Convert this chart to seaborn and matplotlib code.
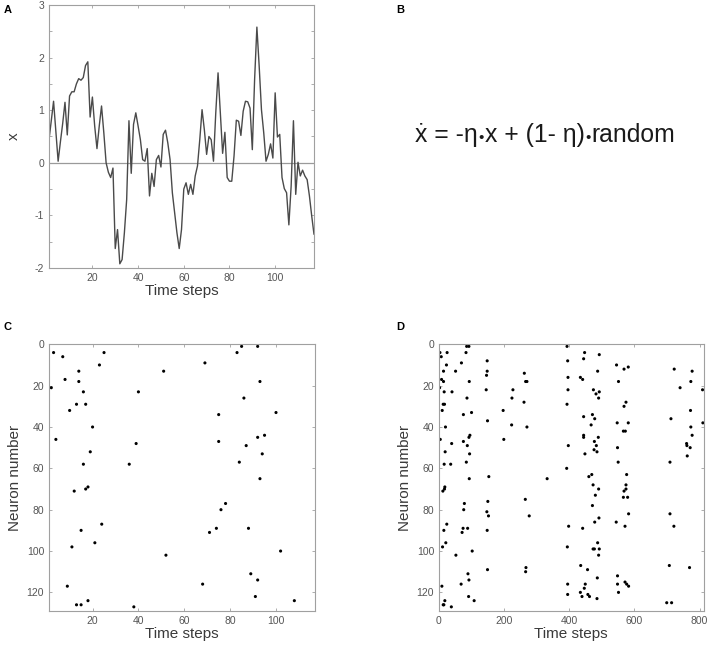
import matplotlib
matplotlib.use("Agg")
import numpy as np
import pandas as pd
import matplotlib.pyplot as plt
import seaborn as sns
from matplotlib.ticker import MultipleLocator

# =========================================================
# DATA
# =========================================================
# Panel A: state x over time
time_steps = list(range(1, 118))
x_values = [
    0.44, 0.80, 1.17, 0.60, 0.03, 0.40, 0.75, 1.15, 0.53, 1.27,
    1.35, 1.35, 1.50, 1.60, 1.57, 1.62, 1.85, 1.92, 0.87, 1.25,
    0.70, 0.27, 0.70, 1.08, 0.57, 0.00, -0.18, -0.28, -0.10, -1.63,
    -1.27, -1.92, -1.84, -1.33, -0.70, 0.80, -0.20, 0.73, 0.95, 0.70,
    0.44, 0.06, 0.03, 0.27, -0.63, -0.20, -0.45, 0.06, 0.14, -0.08,
    0.54, 0.62, 0.38, 0.06, -0.57, -0.95, -1.33, -1.63, -1.27, -0.50,
    -0.38, -0.60, -0.41, -0.60, -0.25, -0.06, 0.44, 1.01, 0.63, 0.16,
    0.50, 0.44, 0.03, 0.95, 1.71, 0.95, 0.18, 0.58, -0.28, -0.35,
    -0.35, 0.13, 0.81, 0.79, 0.52, 0.98, 1.17, 1.16, 1.04, 0.25,
    1.58, 2.58, 1.84, 1.01, 0.57, 0.03, 0.16, 0.36, 0.09, 1.33,
    0.49, 0.54, -0.28, -0.49, -0.57, -1.18, -0.44, 0.80, -0.60, 0.01,
    -0.25, -0.14, -0.25, -0.32, -0.63, -1.01, -1.36,
]

# Panel B: equation pieces (bullets drawn smaller between them)
eq_parts = ["ẋ = -η", "x + (1- η)", "random"]

# Panel C: spikes during the first 117 steps
c_time = [3, 7, 25, 23, 14, 8, 14, 2, 16, 13, 17, 10, 20, 4, 19, 16, 18, 17,
          12, 24, 15, 21, 11, 9, 13, 15, 18, 38, 40, 39, 36, 51, 52,
          85, 92, 83, 69, 93, 86, 100, 75, 95, 92, 75, 87, 94, 84, 93, 78,
          76, 74, 71, 88, 102, 89, 92, 68, 91, 108]
c_neuron = [4, 6, 4, 10, 13, 17, 18, 21, 23, 29, 29, 32, 40, 46, 52, 58, 69, 70,
            71, 87, 90, 96, 98, 117, 126, 126, 124, 127, 23, 48, 58, 13, 102,
            1, 1, 4, 9, 18, 26, 33, 34, 44, 45, 47, 49, 53, 57, 65, 77,
            80, 89, 91, 89, 100, 111, 114, 116, 122, 124]

# Panel D: further spikes after step 117 (first 117 steps are those of panel C)
d_time_extra = [148, 148, 146, 145, 149, 153, 150, 147, 152, 148, 149,
                262, 266, 270, 227, 224, 261, 197, 223, 270, 199, 332, 265, 277, 267, 266,
                393, 447, 492, 395, 444, 545, 568, 581, 487, 722, 777, 396, 434, 441,
                551, 773, 396, 474, 482, 492, 490, 740, 809, 393, 574, 568, 772, 444,
                471, 478, 467, 547, 581, 712, 810, 444, 444, 489, 477, 483, 476, 485,
                448, 397, 548, 566, 572, 773, 777, 760, 761, 771, 762, 709, 550, 392,
                469, 460, 576, 574, 574, 473, 490, 568, 566, 579, 480, 471, 582, 709,
                491, 478, 544, 398, 441, 571, 721, 487, 394, 473, 477, 492, 490, 435,
                456, 707, 769, 486, 548, 395, 449, 548, 571, 576, 582, 446, 434, 395,
                439, 457, 462, 551, 485, 699, 714]
d_neuron_extra = [8, 13, 15, 22, 37, 64, 76, 81, 83, 90, 109,
                  14, 18, 18, 22, 26, 28, 32, 39, 40, 46, 65, 75, 83, 108, 110,
                  1, 4, 5, 8, 7, 10, 12, 11, 13, 12, 13, 16, 16, 17,
                  18, 18, 22, 22, 24, 23, 26, 21, 22, 29, 28, 30, 32, 35,
                  34, 36, 39, 38, 38, 36, 38, 44, 45, 45, 47, 49, 51, 52,
                  53, 49, 50, 42, 42, 40, 44, 48, 49, 50, 54, 57, 57, 60,
                  63, 64, 63, 68, 70, 68, 70, 71, 74, 74, 73, 78, 82, 82,
                  84, 86, 86, 88, 89, 88, 88, 96, 98, 99, 99, 99, 102, 107,
                  109, 107, 108, 113, 112, 116, 116, 116, 115, 116, 117, 118, 120, 121,
                  122, 121, 122, 120, 123, 125, 125]

# =========================================================
# STYLE
# =========================================================
sns.set_style("white")
plt.rcParams["font.family"] = ["Liberation Sans", "DejaVu Sans"]
plt.rcParams["axes.unicode_minus"] = False

TICK_COL = "#555555"
LABEL_COL = "#3a3a3a"
SPINE_COL = "#a0a0a0"


def matlab_axes(ax):
    for s in ax.spines.values():
        s.set_color(SPINE_COL)
        s.set_linewidth(0.8)
    ax.tick_params(which="both", direction="in", top=True, right=True,
                   bottom=True, left=True,
                   length=2.5, width=0.6, color=SPINE_COL,
                   labelcolor=TICK_COL, labelsize=7.5, pad=3.5)
    ax.xaxis.label.set_color(LABEL_COL)
    ax.yaxis.label.set_color(LABEL_COL)


fig = plt.figure(figsize=(7.08, 6.5), dpi=100)

# --- Panel A ---
ax_a = fig.add_axes([0.0692, 0.5877, 0.3743, 0.4046])
df_a = pd.DataFrame({"t": time_steps, "x": x_values})
ax_a.axhline(0, color="#9a9a9a", linewidth=0.9, zorder=1)
sns.lineplot(data=df_a, x="t", y="x", ax=ax_a, color="#4a4a4a", linewidth=1.0, zorder=2)
ax_a.set_xlim(1, 117)
ax_a.set_ylim(-2, 3)
ax_a.set_xticks([20, 40, 60, 80, 100])
ax_a.yaxis.set_major_locator(MultipleLocator(1))
ax_a.yaxis.set_minor_locator(MultipleLocator(0.5))
ax_a.set_xlabel("Time steps", fontsize=11, labelpad=1)
ax_a.set_ylabel("x", fontsize=11, labelpad=10)
matlab_axes(ax_a)

# --- Panel B: equation, chained text pieces with small bullets ---
EQ_COL = "#1a1a1a"
prev = fig.text(415 / 708, 0.792, eq_parts[0], fontsize=17.8,
                ha="left", va="center", color=EQ_COL)
for part in eq_parts[1:]:
    dot = ax_a.annotate("•", xy=(1, 0), xycoords=prev, xytext=(0.5, 1.5),
                        textcoords="offset points", fontsize=11,
                        ha="left", va="bottom", color=EQ_COL, annotation_clip=False)
    prev = ax_a.annotate(part, xy=(1, 0), xycoords=dot, xytext=(0.5, -1.5),
                         textcoords="offset points", fontsize=17.8,
                         ha="left", va="bottom", color=EQ_COL, annotation_clip=False)

# --- Panel C ---
ax_c = fig.add_axes([0.0692, 0.060, 0.3757, 0.4103])
df_c = pd.DataFrame({"t": c_time, "n": c_neuron})
sns.scatterplot(data=df_c, x="t", y="n", ax=ax_c, color="black", s=5,
                marker="o", edgecolor="none")
ax_c.set_xlim(1, 117)
ax_c.set_ylim(129, 0)
ax_c.set_xticks([20, 40, 60, 80, 100])
ax_c.set_yticks([0, 20, 40, 60, 80, 100, 120])
ax_c.set_xlabel("Time steps", fontsize=11, labelpad=1)
ax_c.set_ylabel("Neuron number", fontsize=11, labelpad=3)
matlab_axes(ax_c)

# --- Panel D ---
ax_d = fig.add_axes([0.6200, 0.060, 0.3737, 0.4103])
df_d = pd.DataFrame({"t": c_time + d_time_extra, "n": c_neuron + d_neuron_extra})
sns.scatterplot(data=df_d, x="t", y="n", ax=ax_d, color="black", s=5,
                marker="o", edgecolor="none")
ax_d.set_xlim(0, 812)
ax_d.set_ylim(129, 0)
ax_d.set_xticks([0, 200, 400, 600, 800])
ax_d.set_yticks([0, 20, 40, 60, 80, 100, 120])
ax_d.set_xlabel("Time steps", fontsize=11, labelpad=1)
ax_d.set_ylabel("Neuron number", fontsize=11, labelpad=3)
matlab_axes(ax_d)

# --- panel letters ---
for letter, (lx, ly) in {"A": (8, 10), "B": (400, 10), "C": (8, 327), "D": (400, 327)}.items():
    fig.text(lx / 708, 1 - ly / 650, letter, fontsize=8, fontweight="bold",
             ha="center", va="center", color="black")

fig.savefig("out.png", dpi=100)
plt.close(fig)
